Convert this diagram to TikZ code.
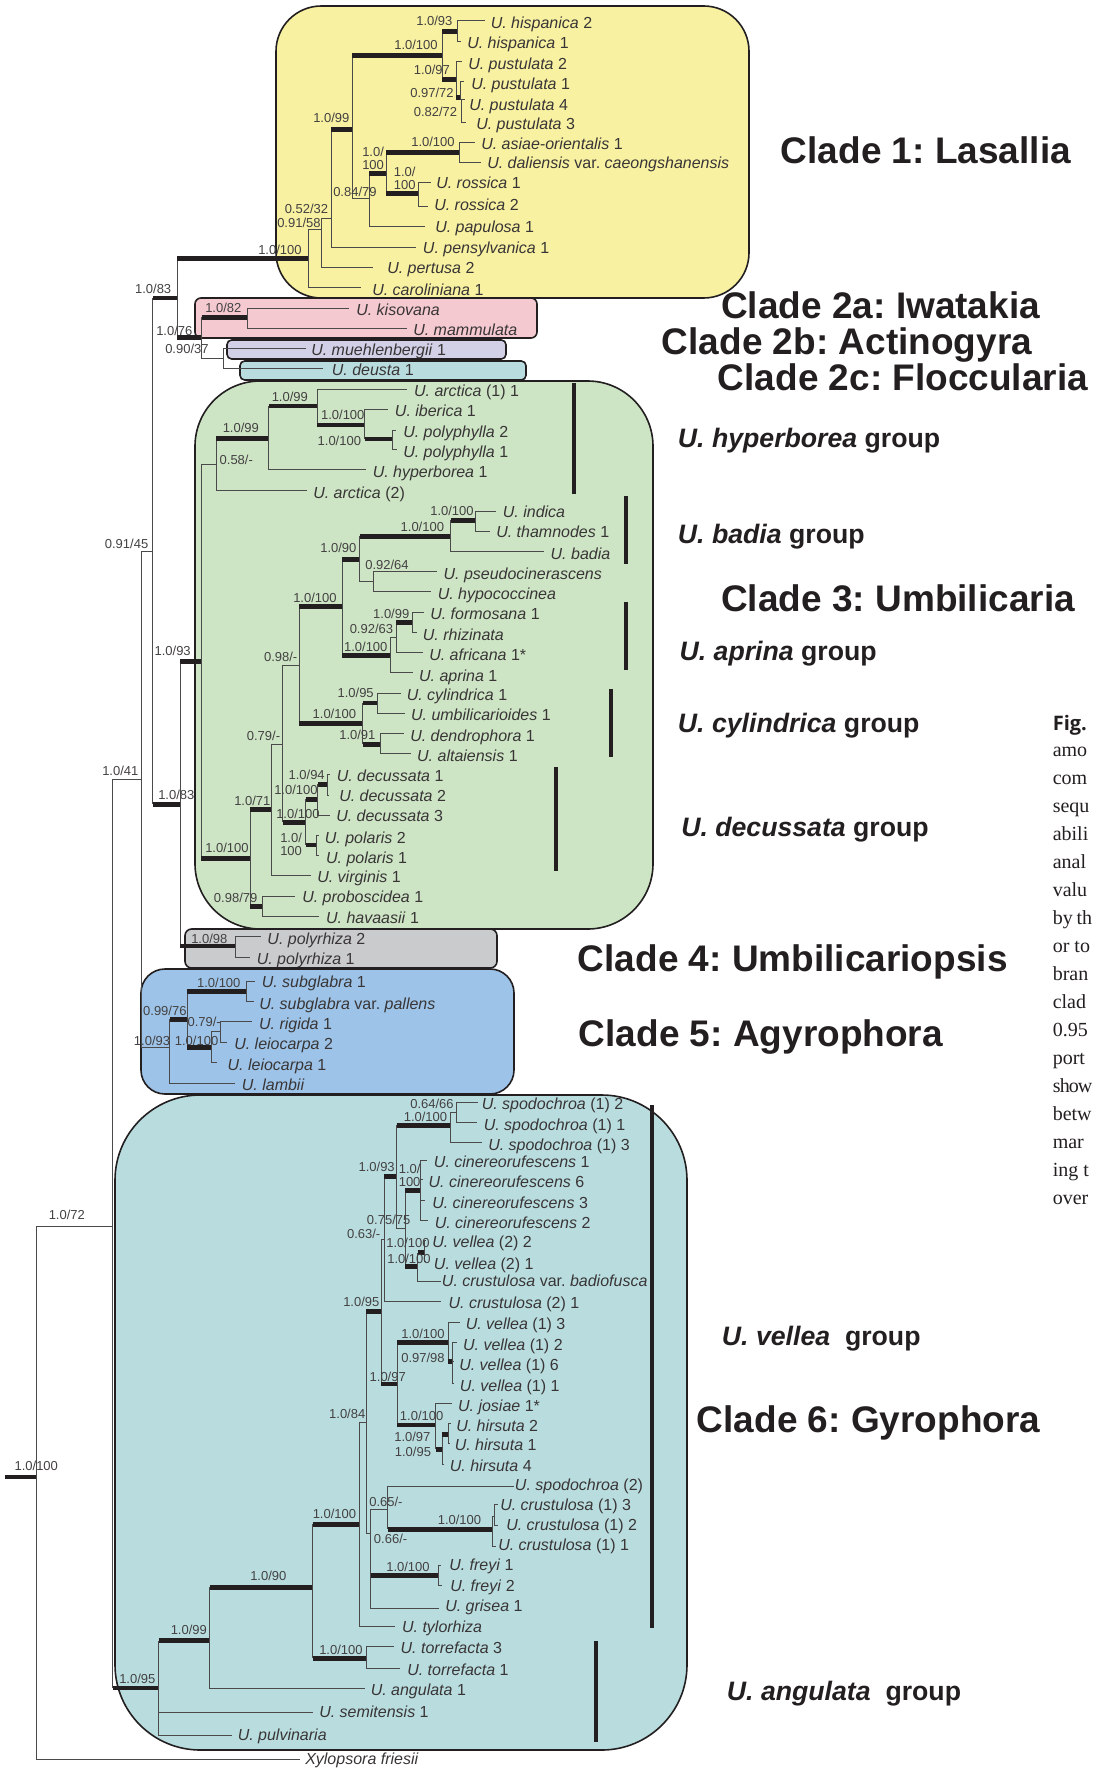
\documentclass[tikz,border=0pt]{standalone}
\usepackage{fontspec}
\setmainfont{Liberation Sans}
\newfontfamily\capser{Liberation Serif}
\newfontfamily\capsan{Open Sans}
\frenchspacing
\definecolor{ink}{HTML}{231F20}
\definecolor{thinline}{HTML}{4A4A4A}
\definecolor{cyellow}{HTML}{F7F1A1}
\definecolor{cpink}{HTML}{F4C9D0}
\definecolor{clav}{HTML}{D2D0E6}
\definecolor{cteal}{HTML}{B9DDDF}
\definecolor{cgreen}{HTML}{CDE5C5}
\definecolor{cgrey}{HTML}{CACBCD}
\definecolor{cblue}{HTML}{9DC4E8}
\tikzset{
  cladebox/.style={draw=ink,line width=1.2pt},
  groupbar/.style={draw=ink,line width=3.5pt},
  thinbr/.style={draw=thinline,line width=0.75pt},
  thickbr/.style={draw=ink,line width=3.5pt},
  taxon/.style={anchor=base west,inner sep=0pt,text=ink!90,font=\fontsize{12pt}{14pt}\selectfont},
  supp/.style={anchor=base west,inner sep=0pt,text=ink!85,font=\fontsize{9.75pt}{11pt}\selectfont},
  cladetxt/.style={anchor=base west,inner sep=0pt,text=ink,font=\fontsize{27.75pt}{30pt}\selectfont\bfseries},
  grouptxt/.style={anchor=base west,inner sep=0pt,text=ink,font=\fontsize{20pt}{22pt}\selectfont\bfseries},
  captxt/.style={anchor=base west,inner sep=0pt,text=ink,font=\fontsize{15pt}{18pt}\capser},
}
\newcommand\uu[1]{\textit{U. #1}}
\newcounter{lb}
\newcommand\slab[3]{\stepcounter{lb}\node[supp] (s\thelb) at (#1,#2) {#3};}
% thick / thin branch: name, parent, x, y
\newcommand\tb[4]{\coordinate (#1) at (#3,#4);
  \draw[thinbr] (#2) -- (#2 |- #1);
  \draw[thickbr] (#2 |- #1) -- (#1);}
\newcommand\nb[4]{\coordinate (#1) at (#3,#4);
  \draw[thinbr] (#2) |- (#1);}
% tip: name, parent, label x, baseline y, leader y, leader end x, text
\newcommand\tip[7]{\node[taxon] (#1) at (#3,#4) {#7};
  \coordinate (#1e) at (#6,#5);
  \draw[thinbr] (#2) |- (#1e);}
\begin{document}
\begin{tikzpicture}[x=.75pt,y=-.75pt]
\useasboundingbox (0,0) rectangle (1092,1769);
% clade boxes
\draw[cladebox,fill=cyellow,rounded corners=34pt] (276,6) rectangle (749,298);
\draw[cladebox,fill=cpink,rounded corners=4.5pt] (195,298) rectangle (537,338);
\draw[cladebox,fill=clav,rounded corners=3.5pt] (227,340) rectangle (506,359);
\draw[cladebox,fill=cteal,rounded corners=3.5pt] (240,361) rectangle (526,380);
\draw[cladebox,fill=cgreen,rounded corners=49pt] (195,381) rectangle (653,929);
\draw[cladebox,fill=cgrey,rounded corners=5pt] (185,929) rectangle (497,968);
\draw[cladebox,fill=cblue,rounded corners=18pt] (141,969) rectangle (514,1094);
\draw[cladebox,fill=cteal,rounded corners=64pt] (115,1095) rectangle (687,1750);
% group bars
\draw[groupbar] (574,383) -- (574,494);
\draw[groupbar] (626,496) -- (626,564);
\draw[groupbar] (626,602) -- (626,670);
\draw[groupbar] (611,689) -- (611,757);
\draw[groupbar] (556,767) -- (556,871);
\draw[groupbar] (652,1105) -- (652,1628);
\draw[groupbar] (596,1641) -- (596,1742);
% root and backbone
\coordinate (r0) at (5.4,1477);
\tb{r}{r0}{36}{1477}
\tip{xyl}{r}{305}{1764}{1759}{300}{\textit{Xylopsora friesii}}
\nb{n72}{r}{112.6}{1226}
\nb{n41}{n72}{141}{779}
\tb{n95}{n72}{158.5}{1688}
\nb{n91}{n41}{152.8}{551}
\nb{a93}{n41}{169.6}{1047}
\tb{c83a}{n91}{177.4}{298}
\tb{c83b}{n91}{180.4}{804.3}
% clade 1
\tb{las}{c83a}{308.3}{258.7}
\tip{caro}{las}{372}{295}{287}{361}{\uu{caroliniana} 1}
\nb{n91b}{las}{321.4}{229.3}
\tip{pert}{n91b}{387}{273.3}{267.3}{373}{\uu{pertusa} 2}
\nb{n52}{n91b}{331}{218.3}
\tip{pens}{n52}{422.7}{253}{247.3}{416}{\uu{pensylvanica} 1}
\tb{n99}{n52}{352.4}{129.3}
\tb{hp}{n99}{442}{55.3}
\tb{his}{hp}{457}{31.3}
\tip{his2}{his}{490.5}{29}{20.7}{485}{\uu{hispanica} 2}
\tip{his1}{his}{467}{49}{41.3}{461}{\uu{hispanica} 1}
\tb{pu}{hp}{456}{79.3}
\tip{pu2}{pu}{468}{69.3}{61.3}{462}{\uu{pustulata} 2}
\tb{pub}{pu}{460.5}{97.3}
\tip{pu1}{pub}{471}{89.3}{81.7}{464}{\uu{pustulata} 1}
\nb{puc}{pub}{461.5}{100}
\tip{pu4}{puc}{469}{110.7}{100}{465}{\uu{pustulata} 4}
\tip{pu3}{puc}{476}{130}{122.7}{466}{\uu{pustulata} 3}
\nb{n84}{n99}{369.4}{198.3}
\tb{ar}{n84}{386.3}{173.3}
\tip{papu}{n84}{435}{233}{227}{424.6}{\uu{papulosa} 1}
\tb{asi}{ar}{459.5}{152.3}
\tip{asi1}{asi}{481}{150}{142.7}{475}{\uu{asiae-orientalis} 1}
\tip{dal}{asi}{487}{168.3}{162.7}{481}{\uu{daliensis} var. \textit{caeongshanensis}}
\tb{ros}{ar}{418}{193.3}
\tip{ros1}{ros}{436}{188.3}{182.7}{431}{\uu{rossica} 1}
\tip{ros2}{ros}{434}{211}{206.7}{427.5}{\uu{rossica} 2}
% clade 2
\tb{c76}{c83a}{201.6}{337.3}
\tb{kis}{c76}{247.7}{317.3}
\tip{kiso}{kis}{356}{315}{308}{349}{\textit{U. kisovana}}
\tip{mamm}{kis}{413}{335.7}{328.3}{407}{\textit{U. mammulata}}
\nb{n90}{c76}{223}{358.3}
\tip{mueh}{n90}{311}{355}{348.3}{306}{\uu{muehlenbergii} 1}
\tip{deus}{n90}{331.6}{375}{368.3}{323}{\uu{deusta} 1}
% clade 3
\tb{g93}{c83b}{201.4}{661.7}
\nb{g58}{g93}{216}{464.3}
\tip{arc2}{g58}{313}{498.3}{490}{306.7}{\uu{arctica} (2)}
\tb{g99a}{g58}{268.8}{438.3}
\tip{hype}{g99a}{372.5}{477.7}{469.7}{366}{\uu{hyperborea} 1}
\tb{g99b}{g99a}{317.4}{406}
\tip{arc1}{g99b}{413.8}{396}{389}{407}{\uu{arctica} (1) 1}
\tb{g100a}{g99b}{364.8}{425}
\tip{iber}{g100a}{394.7}{416.7}{409.3}{388}{\uu{iberica} 1}
\tb{poly}{g100a}{392.8}{439}
\tip{pol2}{poly}{403}{437.7}{430}{395.8}{\uu{polyphylla} 2}
\tip{pol1}{poly}{403}{457.3}{449.3}{396.5}{\uu{polyphylla} 1}
\tb{g100b}{g93}{250.4}{858.3}
\tb{g98}{g100b}{262.6}{906.7}
\tip{prob}{g98}{302}{902.7}{896}{295}{\uu{proboscidea} 1}
\tip{hava}{g98}{325.8}{923.3}{916}{319}{\uu{havaasii} 1}
\tb{g71}{g100b}{271.8}{809.3}
\tip{virg}{g71}{317}{882.7}{875.7}{310.5}{\uu{virginis} 1}
\nb{g79}{g71}{282.5}{744}
\nb{g98b}{g79}{299}{665.7}
\tb{g100c}{g98b}{342.3}{606.3}
\tb{g90}{g100c}{359.5}{559.3}
\tb{g100d}{g90}{450.6}{536.3}
\tb{g100e}{g100d}{475.8}{520.3}
\tip{indi}{g100e}{502.6}{517.7}{511}{496}{\textit{U. indica}}
\tip{tham}{g100e}{496}{537.7}{531}{489.6}{\uu{thamnodes} 1}
\tip{badi}{g100d}{550.4}{559}{551}{544}{\textit{U. badia}}
\nb{g92}{g90}{373.6}{581.7}
\tip{pseu}{g92}{443.3}{579.3}{571.3}{436.8}{\textit{U. pseudocinerascens}}
\tip{hypo}{g92}{437.5}{599.3}{591.7}{431}{\textit{U. hypococcinea}}
\tb{g100f}{g100c}{390}{655.3}
\tip{apri}{g100f}{418.8}{681}{672.7}{412.7}{\uu{aprina} 1}
\nb{g92b}{g100f}{396.2}{637.3}
\tip{afri}{g92b}{429}{660}{652.7}{422.6}{\uu{africana} 1*}
\tb{g99c}{g92b}{412}{622.3}
\tip{form}{g99c}{430}{619.3}{612.3}{424}{\uu{formosana} 1}
\tip{rhiz}{g99c}{422.6}{640}{632.3}{416.5}{\textit{U. rhizinata}}
\tb{g100g}{g98b}{362.5}{723.3}
\tb{g95}{g100g}{377.8}{703}
\tip{cyli}{g95}{406.5}{700.7}{693.3}{400.8}{\uu{cylindrica} 1}
\tip{umbi}{g95}{410.8}{720.7}{713.3}{405}{\uu{umbilicarioides} 1}
\tb{g91}{g100g}{380.5}{744.3}
\tip{dend}{g91}{410}{741}{733.7}{403.5}{\uu{dendrophora} 1}
\tip{alta}{g91}{416.9}{761.7}{753.7}{410.8}{\uu{altaiensis} 1}
\tb{d100}{g79}{305.5}{822.3}
\tb{d100b}{d100}{317.8}{799.3}
\tip{dec3}{d100b}{336}{821.7}{815}{329.6}{\uu{decussata} 3}
\tb{d94}{d100b}{327.7}{784.3}
\tip{dec1}{d94}{336.5}{781.7}{774.3}{329.6}{\uu{decussata} 1}
\tip{dec2}{d94}{339}{801.7}{795}{328}{\uu{decussata} 2}
\tb{dpo}{d100}{316.6}{845}
\tip{pola2}{dpo}{324.6}{843.3}{835}{319}{\uu{polaris} 2}
\tip{pola1}{dpo}{325.8}{863.3}{855}{319}{\uu{polaris} 1}
% clade 4
\tb{pry}{c83b}{235.9}{946}
\tip{pry2}{pry}{267.2}{944.3}{936.7}{260.7}{\uu{polyrhiza} 2}
\tip{pry1}{pry}{256.5}{964.3}{957}{250}{\uu{polyrhiza} 1}
% clade 5
\tip{lamb}{a93}{241.6}{1090}{1083.7}{235}{\textit{U. lambii}}
\tb{a99}{a93}{187.3}{1019.3}
\tb{a100}{a99}{246.2}{991.3}
\tip{sub1}{a100}{261.5}{987.7}{981}{255.4}{\uu{subglabra} 1}
\tip{subp}{a100}{259}{1009}{1001}{253.8}{\uu{subglabra} var. \textit{pallens}}
\tb{a100b}{a99}{211}{1047.3}
\tip{lei1}{a100b}{227.4}{1070}{1062.7}{216.7}{\uu{leiocarpa} 1}
\nb{a79}{a100b}{220.5}{1031.3}
\tip{rigi}{a79}{258.8}{1029}{1021.7}{252.3}{\uu{rigida} 1}
\tip{lei2}{a79}{234}{1049}{1042.3}{227.4}{\uu{leiocarpa} 2}
% clade 6
\tip{pulv}{n95}{237.5}{1740}{1735}{232}{\textit{U. pulvinaria}}
\tip{semi}{n95}{319}{1717.7}{1712.3}{312.5}{\uu{semitensis} 1}
\tb{v99}{n95}{209.8}{1640.7}
\tip{angu}{v99}{370.5}{1695}{1688.3}{364.7}{\uu{angulata} 1}
\tb{v90}{v99}{312.5}{1587.3}
\tb{tor}{v90}{366}{1658.3}
\tip{tor3}{tor}{400.4}{1653.3}{1646.3}{394}{\uu{torrefacta} 3}
\tip{tor1}{tor}{407}{1675}{1668.7}{400.4}{\uu{torrefacta} 1}
\tb{v100}{v90}{359.4}{1524.3}
\tip{tylo}{v100}{401.8}{1632}{1626.3}{395}{\textit{U. tylorhiza}}
\nb{v84}{v100}{366}{1422}
\nb{v66}{v84}{370.5}{1533.3}
\tb{fre}{v66}{438.8}{1575.3}
\tip{fre1}{fre}{449}{1570.7}{1565}{441}{\uu{freyi} 1}
\tip{fre2}{fre}{450}{1591.7}{1585.7}{442}{\uu{freyi} 2}
\tip{gris}{v66}{445}{1611.7}{1608.3}{438.8}{\uu{grisea} 1}
\nb{v65}{v66}{387.5}{1509.3}
\tip{spo2}{v65}{514.7}{1490}{1486.3}{514}{\uu{spodochroa} (2)}
\tb{cru}{v65}{492.4}{1529.3}
\tip{cru1}{cru}{498}{1550.7}{1546}{495.5}{\uu{crustulosa} (1) 1}
\nb{crub}{cru}{494.6}{1516.3}
\tip{cru3}{crub}{500}{1510}{1504.7}{498}{\uu{crustulosa} (1) 3}
\tip{cru2}{crub}{506}{1530}{1525}{498}{\uu{crustulosa} (1) 2}
\tb{v95}{v84}{381}{1311.3}
\nb{v63}{v95}{384}{1239.3}
\tip{cr21}{v63}{448.3}{1308.3}{1301.7}{440.6}{\uu{crustulosa} (2) 1}
\tb{v93}{v63}{396.6}{1176.7}
\tb{sp}{v93}{450.2}{1125.3}
\tip{sp3}{sp}{488}{1150}{1142.3}{481.6}{\uu{spodochroa} (1) 3}
\nb{sp64}{sp}{456}{1112.3}
\tip{sp12}{sp64}{481.5}{1109.3}{1102.3}{478}{\uu{spodochroa} (1) 2}
\tip{sp11}{sp64}{483.5}{1130}{1122.3}{477}{\uu{spodochroa} (1) 1}
\nb{v75}{v93}{405}{1228.3}
\tb{cin}{v75}{420.7}{1190.3}
\tip{cin1}{cin}{433.7}{1167.3}{1160}{427}{\uu{cinereorufescens} 1}
\tip{cin6}{cin}{428.4}{1187.7}{1179.3}{423}{\uu{cinereorufescens} 6}
\tip{cin3}{cin}{432}{1208.3}{1200}{425}{\uu{cinereorufescens} 3}
\tip{cin2}{cin}{434.5}{1228}{1220.7}{428}{\uu{cinereorufescens} 2}
\tb{vv}{v75}{417.6}{1266.3}
\tip{badf}{vv}{441.7}{1286.7}{1281.7}{440.6}{\uu{crustulosa} var. \textit{badiofusca}}
\tb{vv2}{vv}{424.5}{1252.7}
\tip{v22}{vv2}{432}{1247.7}{1240.7}{426.4}{\uu{vellea} (2) 2}
\tip{v21}{vv2}{433.7}{1269}{1261}{426.4}{\uu{vellea} (2) 1}
\tb{v97}{v95}{397.4}{1384}
\tb{ve}{v97}{448.3}{1342.3}
\tip{v13}{ve}{465.5}{1329}{1322.3}{459.7}{\uu{vellea} (1) 3}
\tb{ves}{ve}{452}{1361.7}
\tip{v12}{ves}{462.8}{1350}{1342.3}{456.7}{\uu{vellea} (1) 2}
\tip{v16}{ves}{459}{1370}{1361.7}{454}{\uu{vellea} (1) 6}
\tip{v11}{ves}{459.7}{1391}{1383.3}{454}{\uu{vellea} (1) 1}
\tb{hi}{v97}{435.6}{1425}
\tip{josi}{hi}{457.8}{1411}{1403.3}{452}{\uu{josiae} 1*}
\tb{hi95}{hi}{442}{1449.3}
\tip{hir4}{hi95}{449.6}{1471.7}{1464}{444}{\uu{hirsuta} 4}
\tb{hi97}{hi95}{448.7}{1434.3}
\tip{hir2}{hi97}{456}{1431}{1423}{451}{\uu{hirsuta} 2}
\tip{hir1}{hi97}{454.5}{1450.7}{1443}{450}{\uu{hirsuta} 1}
% support values
\slab{416}{26}{1.0/93}
\slab{394}{50}{1.0/100}
\slab{413.5}{75}{1.0/97}
\slab{410}{98}{0.97/72}
\slab{413.5}{117}{0.82/72}
\slab{313}{122.7}{1.0/99}
\slab{411}{147}{1.0/100}
\slab{362}{156.7}{1.0/}
\slab{362}{170}{100}
\slab{393.6}{176.7}{1.0/}
\slab{393.6}{190}{100}
\slab{333}{196.7}{0.84/79}
\slab{284.5}{214}{0.52/32}
\slab{277}{228}{0.91/58}
\slab{258}{255}{1.0/100}
\slab{134.8}{293}{1.0/83}
\slab{205}{312.7}{1.0/82}
\slab{156}{335}{1.0/76}
\slab{165}{353.3}{0.90/37}
\slab{271.5}{401.7}{1.0/99}
\slab{320.8}{419}{1.0/100}
\slab{222.5}{432.3}{1.0/99}
\slab{317.4}{445}{1.0/100}
\slab{219.4}{464}{0.58/-}
\slab{430}{515}{1.0/100}
\slab{400.4}{531}{1.0/100}
\slab{104.6}{548}{0.91/45}
\slab{320}{552.3}{1.0/90}
\slab{365}{569}{0.92/64}
\slab{293}{602.3}{1.0/100}
\slab{372.9}{618.3}{1.0/99}
\slab{349.5}{633.3}{0.92/63}
\slab{343.8}{651.7}{1.0/100}
\slab{154.3}{655}{1.0/93}
\slab{263.8}{661}{0.98/-}
\slab{337.3}{697.7}{1.0/95}
\slab{312.4}{718.3}{1.0/100}
\slab{339}{739}{1.0/91}
\slab{246.6}{740}{0.79/-}
\slab{102}{775}{1.0/41}
\slab{288.3}{779}{1.0/94}
\slab{274}{794.3}{1.0/100}
\slab{158}{799.3}{1.0/83}
\slab{234}{805}{1.0/71}
\slab{276}{818}{1.0/100}
\slab{280}{842.3}{1.0/}
\slab{280}{855.7}{100}
\slab{205}{852.3}{1.0/100}
\slab{213.7}{902.7}{0.98/79}
\slab{191}{943.3}{1.0/98}
\slab{196.8}{987.3}{1.0/100}
\slab{142.9}{1015}{0.99/76}
\slab{187.3}{1026.7}{0.79/-}
\slab{133.7}{1045}{1.0/93}
\slab{174.6}{1045}{1.0/100}
\slab{410}{1108}{0.64/66}
\slab{403.5}{1121.7}{1.0/100}
\slab{358.3}{1171.7}{1.0/93}
\slab{398.5}{1173.3}{1.0/}
\slab{398.5}{1186.7}{100}
\slab{48.5}{1219}{1.0/72}
\slab{366.7}{1224}{0.75/75}
\slab{346.8}{1238.3}{0.63/-}
\slab{386}{1247.7}{1.0/100}
\slab{387}{1263.3}{1.0/100}
\slab{343}{1306}{1.0/95}
\slab{401}{1338.3}{1.0/100}
\slab{401}{1362.3}{0.97/98}
\slab{369.4}{1381.7}{1.0/97}
\slab{328.9}{1418.3}{1.0/84}
\slab{399.7}{1420}{1.0/100}
\slab{394}{1441.7}{1.0/97}
\slab{394.6}{1456}{1.0/95}
\slab{14.3}{1470.7}{1.0/100}
\slab{369}{1506.7}{0.65/-}
\slab{312.5}{1518.3}{1.0/100}
\slab{437.5}{1524}{1.0/100}
\slab{373.7}{1543.3}{0.66/-}
\slab{386}{1571.7}{1.0/100}
\slab{250}{1580}{1.0/90}
\slab{170.5}{1634}{1.0/99}
\slab{319}{1654}{1.0/100}
\slab{119}{1683.3}{1.0/95}
% clade titles
\node[cladetxt] (t1) at (780.7,163.3) {Clade 1: Lasallia};
\node[cladetxt] (t2a) at (721,318.3) {Clade 2a: Iwatakia};
\node[cladetxt] (t2b) at (661.7,354.3) {Clade 2b: Actinogyra};
\node[cladetxt] (t2c) at (717.7,390.7) {Clade 2c: Floccularia};
\node[cladetxt] (t3) at (721,611.7) {Clade 3: Umbilicaria};
\node[cladetxt] (t4) at (577.6,971.7) {Clade 4: Umbilicariopsis};
\node[cladetxt] (t5) at (578.7,1046.7) {Clade 5: Agyrophora};
\node[cladetxt] (t6) at (696.7,1432) {Clade 6: Gyrophora};
% group titles
\node[grouptxt] (g1) at (677.7,447.3) {\textit{U. hyperborea} group};
\node[grouptxt] (g2) at (677.7,543.3) {\textit{U. badia} group};
\node[grouptxt] (g3) at (679.4,660) {\textit{U. aprina} group};
\node[grouptxt] (g4) at (677.7,732.7) {\textit{U. cylindrica} group};
\node[grouptxt] (g5) at (681,836.7) {\textit{U. decussata} group};
\node[grouptxt] (g6) at (721.7,1345.7) {\textit{U. vellea}\ \ group};
\node[grouptxt] (g7) at (726.7,1700) {\textit{U. angulata}\ \ group};
% caption remnants
\node[anchor=base west,inner sep=0pt,text=ink,font=\fontsize{15pt}{18pt}\capsan\bfseries] (cap0) at (1052.5,730) {Fig.};
\node[captxt] (cap1) at (1052.5,756.7) {amo};
\node[captxt] (cap2) at (1052.5,784.7) {com};
\node[captxt] (cap3) at (1052.5,812.7) {sequ};
\node[captxt] (cap4) at (1052.5,840.7) {abili};
\node[captxt] (cap5) at (1052.5,868.7) {anal};
\node[captxt] (cap6) at (1052.5,896.7) {valu};
\node[captxt] (cap7) at (1052.5,924.7) {by\kern2.9pt th};
\node[captxt] (cap8) at (1052.5,952.7) {or to};
\node[captxt] (cap9) at (1052.5,980.7) {bran};
\node[captxt] (cap10) at (1052.5,1008.7) {clad};
\node[captxt] (cap11) at (1052.5,1036.7) {0.95};
\node[captxt] (cap12) at (1052.5,1064.7) {port};
\node[captxt] (cap13) at (1052.5,1092.7) {s\kern-.5pt h\kern-.7pt o\kern-.8pt w};
\node[captxt] (cap14) at (1052.5,1120.7) {betw};
\node[captxt] (cap15) at (1052.5,1148.7) {mar};
\node[captxt] (cap16) at (1052.5,1176.7) {ing t};
\node[captxt] (cap17) at (1052.5,1204.7) {over};
\end{tikzpicture}
\end{document}
